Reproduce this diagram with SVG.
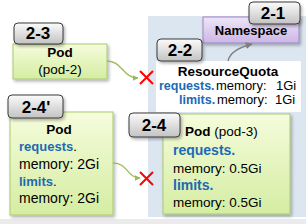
<svg xmlns="http://www.w3.org/2000/svg" width="306" height="224" viewBox="0 0 306 224">
<defs>
<linearGradient id="gPod" x1="0" y1="0" x2="0" y2="1">
<stop offset="0" stop-color="#f5fcdc"/>
<stop offset="1" stop-color="#d5eda2"/>
</linearGradient>
<linearGradient id="gNs" x1="0" y1="0" x2="0" y2="1">
<stop offset="0" stop-color="#efe6f8"/>
<stop offset="1" stop-color="#cbb6e6"/>
</linearGradient>
<linearGradient id="gBadge" x1="0" y1="0" x2="0" y2="1">
<stop offset="0" stop-color="#fbfbfb"/>
<stop offset="1" stop-color="#c3c3c3"/>
</linearGradient>
<filter id="sh" x="-10%" y="-10%" width="130%" height="130%">
<feDropShadow dx="1.5" dy="2" stdDeviation="1.5" flood-color="#000" flood-opacity="0.3"/>
</filter>
<marker id="arrG" viewBox="0 0 10 10" refX="9" refY="5" markerWidth="6" markerHeight="6" orient="auto" markerUnits="userSpaceOnUse">
<path d="M0,0 L10,5 L0,10 z" fill="#9bbb59"/>
</marker>
<marker id="arrK" viewBox="0 0 10 10" refX="9" refY="5" markerWidth="7" markerHeight="7" orient="auto" markerUnits="userSpaceOnUse">
<path d="M0,0 L10,5 L0,10 z" fill="#7f7f7f"/>
</marker>
</defs>
<style>
.t{font-family:"Liberation Sans",Arial,sans-serif;fill:#000}
.b{font-weight:bold}
.blue{fill:#1c6ab4;font-weight:bold}
.pod{fill:url(#gPod);stroke:#a9c96e;stroke-width:1;filter:url(#sh)}
.badge{fill:url(#gBadge);stroke:#3a3a3a;stroke-width:1;filter:url(#sh)}
.bt{font-family:"Liberation Sans",Arial,sans-serif;font-weight:bold;font-size:17px;text-anchor:middle;fill:#000}
.x{stroke:#ff0000;stroke-width:2;fill:none}
</style>
<rect x="0" y="0" width="306" height="224" fill="#ffffff"/>
<rect x="0" y="219" width="306" height="5" fill="#ebebeb"/>
<rect id="namespace-area" x="148" y="16" width="158" height="201" fill="#dce6f1"/>

<g id="resourcequota">
<rect x="156" y="61" width="145" height="51" fill="#ffffff"/>
<text class="t b" x="228" y="76" font-size="13.5" text-anchor="middle">ResourceQuota</text>
<text class="t" y="90" font-size="13"><tspan class="blue" x="159" font-size="12.5">requests.</tspan><tspan x="216">memory:</tspan><tspan x="276">1Gi</tspan></text>
<text class="t" y="104" font-size="13"><tspan class="blue" x="179" font-size="12.5">limits.</tspan><tspan x="217">memory:</tspan><tspan x="275">1Gi</tspan></text>
</g>

<g id="namespace">
<rect x="203" y="17" width="96" height="26" fill="url(#gNs)" stroke="#9c86c2" stroke-width="1" filter="url(#sh)"/>
<text class="t b" x="251" y="35" font-size="13" text-anchor="middle">Namespace</text>
</g>

<g id="pod-2">
<rect class="pod" x="13" y="44" width="94" height="35"/>
<text class="t b" x="60" y="57" font-size="13.5" text-anchor="middle">Pod</text>
<text class="t" x="60" y="74" font-size="13.5" text-anchor="middle">(pod-2)</text>
</g>

<g id="pod-2-4prime">
<rect class="pod" x="10" y="112" width="103" height="103"/>
<text class="t b" x="59" y="134" font-size="13.5" text-anchor="middle">Pod</text>
<text class="t blue" x="19" y="151" font-size="13">requests<tspan style="fill:#000;font-weight:normal">.</tspan></text>
<text class="t" x="19" y="169" font-size="14">memory: 2Gi</text>
<text class="t blue" x="19" y="186" font-size="13">limits<tspan style="fill:#000;font-weight:normal">.</tspan></text>
<text class="t" x="19" y="203" font-size="14">memory: 2Gi</text>
</g>

<g id="pod-3">
<rect class="pod" x="163" y="114" width="127" height="100"/>
<text class="t" x="185" y="136" font-size="13.5"><tspan class="b">Pod</tspan> (pod-3)</text>
<text class="t blue" x="173" y="155" font-size="14">requests.</text>
<text class="t" x="173" y="173" font-size="13.5">memory: 0.5Gi</text>
<text class="t blue" x="173" y="190" font-size="14">limits.</text>
<text class="t" x="173" y="207" font-size="13.5">memory: 0.5Gi</text>
</g>

<g id="connectors">
<path d="M107,61 C122,61 123,78 138,78" fill="none" stroke="#9bbb59" stroke-width="1.3" marker-end="url(#arrG)"/>
<path d="M113,163 C128,163 127,178 140,178" fill="none" stroke="#9bbb59" stroke-width="1.3" marker-end="url(#arrG)"/>
<path d="M228,61 C230,52 240,47 252,44" fill="none" stroke="#7f7f7f" stroke-width="1.3" marker-end="url(#arrK)"/>
<path class="x" d="M140,71 L153,84 M153,71 L140,84"/>
<path class="x" d="M140,172 L153,185 M153,172 L140,185"/>
</g>

<g id="badge-2-1"><rect class="badge" x="249" y="2" width="51" height="22" rx="4"/><text class="bt" x="273" y="19">2-1</text></g>
<g id="badge-2-2"><rect class="badge" x="157" y="39" width="45" height="22" rx="4"/><text class="bt" x="180" y="56">2-2</text></g>
<g id="badge-2-3"><rect class="badge" x="14" y="23" width="49" height="21" rx="4"/><text class="bt" x="38" y="39">2-3</text></g>
<g id="badge-2-4prime"><rect class="badge" x="8" y="95" width="55" height="23" rx="4"/><text class="bt" x="36" y="113">2-4'</text></g>
<g id="badge-2-4"><rect class="badge" x="129" y="113" width="51" height="24" rx="4"/><text class="bt" x="154" y="131">2-4</text></g>
</svg>
